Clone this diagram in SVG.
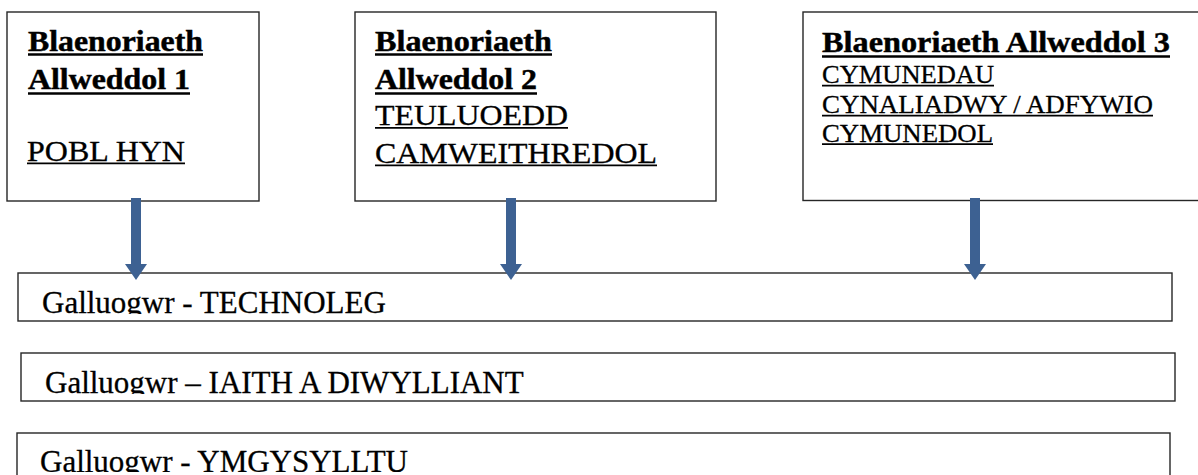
<svg xmlns="http://www.w3.org/2000/svg" width="1198" height="475" viewBox="0 0 1198 475">
<style>
  .box { fill: #ffffff; stroke: #262626; stroke-width: 1.4; }
  .t { font-family: "Liberation Serif", "Times New Roman", serif; fill: #000; stroke: #000; stroke-width: 0.3; }
  .hd { font-size: 28.5px; font-weight: bold; stroke-width: 0.45; }
  .rg { font-size: 29.5px; }
  .sm { font-size: 25.5px; }
  .bt { font-size: 31px; }
  .ulb { stroke: #000; stroke-width: 2.3; }
  .ul { stroke: #000; stroke-width: 1.7; }
  .conn { stroke: #3d6192; stroke-width: 10; fill: none; marker-end: url(#head); }
</style>
<defs>
  <marker id="head" markerUnits="userSpaceOnUse" viewBox="0 0 16 22" markerWidth="16" markerHeight="22" refX="0" refY="11" orient="auto">
    <path d="M0,0 L16,11 L0,22 Z" fill="#3d6192"/>
  </marker>
  <clipPath id="clipA"><rect x="18" y="273" width="1154" height="41"/></clipPath>
  <clipPath id="clipB"><rect x="21" y="353" width="1154" height="41"/></clipPath>
  <clipPath id="clipC"><rect x="17" y="433" width="1154" height="39"/></clipPath>
</defs>
<rect width="1198" height="475" fill="#ffffff"/>

<g id="node-ba1">
  <rect class="box" x="7" y="12" width="252" height="189"/>
  <text class="t hd" x="28" y="50.5" textLength="175" lengthAdjust="spacingAndGlyphs">Blaenoriaeth</text>
  <line class="ulb" x1="28" y1="54.5" x2="203" y2="54.5"/>
  <text class="t hd" x="28" y="88.5" textLength="162" lengthAdjust="spacingAndGlyphs">Allweddol 1</text>
  <line class="ulb" x1="28" y1="93.5" x2="190" y2="93.5"/>
  <text class="t rg" x="27" y="160.5" textLength="158" lengthAdjust="spacingAndGlyphs">POBL HYN</text>
  <line class="ul" x1="27" y1="163.3" x2="185" y2="163.3"/>
</g>

<g id="node-ba2">
  <rect class="box" x="355" y="12" width="361" height="189"/>
  <text class="t hd" x="375" y="50.5" textLength="177" lengthAdjust="spacingAndGlyphs">Blaenoriaeth</text>
  <line class="ulb" x1="375" y1="54.5" x2="552" y2="54.5"/>
  <text class="t hd" x="375" y="88.5" textLength="162" lengthAdjust="spacingAndGlyphs">Allweddol 2</text>
  <line class="ulb" x1="375" y1="93.5" x2="537" y2="93.5"/>
  <text class="t rg" x="375" y="125" textLength="193" lengthAdjust="spacingAndGlyphs">TEULUOEDD</text>
  <line class="ul" x1="375" y1="127.8" x2="568" y2="127.8"/>
  <text class="t rg" x="375" y="162.5" textLength="282" lengthAdjust="spacingAndGlyphs">CAMWEITHREDOL</text>
  <line class="ul" x1="375" y1="165.3" x2="657" y2="165.3"/>
</g>

<g id="node-ba3">
  <rect class="box" x="803" y="12" width="400" height="188.5"/>
  <text class="t hd" x="822" y="52" textLength="348" lengthAdjust="spacingAndGlyphs">Blaenoriaeth Allweddol 3</text>
  <line class="ulb" x1="822" y1="56.5" x2="1170" y2="56.5"/>
  <text class="t sm" x="822" y="83" textLength="172" lengthAdjust="spacingAndGlyphs">CYMUNEDAU</text>
  <line class="ul" x1="822" y1="85.7" x2="994" y2="85.7"/>
  <text class="t sm" x="822" y="113" textLength="331" lengthAdjust="spacingAndGlyphs">CYNALIADWY / ADFYWIO</text>
  <line class="ul" x1="822" y1="115.7" x2="1153" y2="115.7"/>
  <text class="t sm" x="822" y="141.5" textLength="171" lengthAdjust="spacingAndGlyphs">CYMUNEDOL</text>
  <line class="ul" x1="822" y1="144.2" x2="993" y2="144.2"/>
</g>

<g id="node-technoleg">
  <rect class="box" x="18" y="273" width="1154" height="48"/>
  <text class="t bt" x="42" y="313" clip-path="url(#clipA)">Galluogwr - TECHNOLEG</text>
</g>

<g id="node-iaith">
  <rect class="box" x="21" y="353" width="1154" height="48"/>
  <text class="t bt" x="45" y="392.5" clip-path="url(#clipB)">Galluogwr – IAITH A DIWYLLIANT</text>
</g>

<g id="node-ymgysylltu">
  <rect class="box" x="17" y="433" width="1153" height="60"/>
  <text class="t bt" x="40" y="471.5" clip-path="url(#clipC)">Galluogwr - YMGYSYLLTU</text>
</g>

<g id="connectors">
  <line class="conn" x1="136" y1="198" x2="136" y2="264"/>
  <line class="conn" x1="511" y1="198" x2="511" y2="264"/>
  <line class="conn" x1="975" y1="198" x2="975" y2="264"/>
</g>
</svg>
